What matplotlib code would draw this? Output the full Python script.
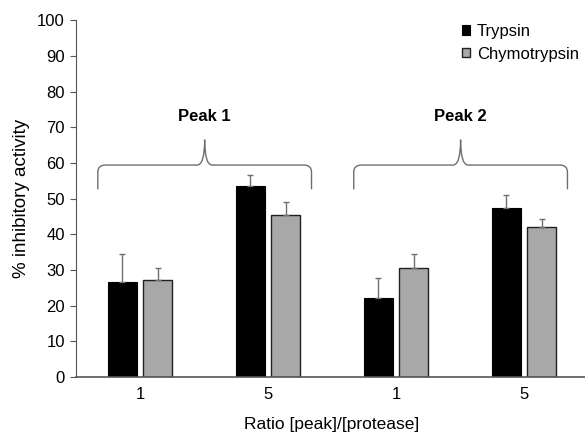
import matplotlib
matplotlib.use("Agg")
import matplotlib.pyplot as plt
from matplotlib.path import Path
from matplotlib.patches import PathPatch
import numpy as np

plt.rcParams['font.family'] = ['Liberation Sans', 'DejaVu Sans']

categories = ["1", "5", "1", "5"]
trypsin = [26.7, 53.5, 22.2, 47.4]
trypsin_err = [7.7, 3.2, 5.6, 3.5]
chymo = [27.3, 45.5, 30.6, 42.0]
chymo_err = [3.3, 3.6, 3.9, 2.2]
peaks = ["Peak 1", "Peak 2"]

fig = plt.figure(figsize=(5.85, 4.37), dpi=100)
ax = fig.add_axes([0.130, 0.137, 0.875, 0.817])

x = np.arange(len(categories))
w = 0.227
off = 0.14
ekw = dict(ecolor='#707070', capsize=2.2, elinewidth=1, capthick=1)
ax.bar(x - off, trypsin, w, color='black', edgecolor='black', linewidth=0.8, label='Trypsin',
       yerr=[np.zeros(4), trypsin_err], error_kw=ekw)
ax.bar(x + off, chymo, w, color='#a8a8a8', edgecolor='#202020', linewidth=1.0, label='Chymotrypsin',
       yerr=[np.zeros(4), chymo_err], error_kw=ekw)

def brace(ax, x0, x1, ybot, yflat, ytip, r=0.06, ry=2.0):
    xm = (x0 + x1) / 2
    verts = [
        (x0, ybot), (x0, yflat - ry), (x0, yflat), (x0 + r, yflat),
        (xm - r, yflat), (xm, yflat), (xm, ytip),
        (xm, yflat), (xm + r, yflat),
        (x1 - r, yflat), (x1, yflat), (x1, yflat - ry), (x1, ybot),
    ]
    codes = [Path.MOVETO, Path.LINETO, Path.CURVE3, Path.CURVE3,
             Path.LINETO, Path.CURVE3, Path.CURVE3,
             Path.CURVE3, Path.CURVE3,
             Path.LINETO, Path.CURVE3, Path.CURVE3, Path.LINETO]
    ax.add_patch(PathPatch(Path(verts, codes), fill=False, edgecolor='#6e6e6e', lw=1.0))

for i, name in enumerate(peaks):
    c = 0.5 + 2 * i
    brace(ax, c - 0.83, c + 0.84, 52.6, 59.4, 66.5)
    ax.text(c, 73, name, ha='center', va='center', fontsize=12, fontweight='bold')

ax.set_xlim(-0.5, 3.5)
ax.set_ylim(0, 100)
ax.set_yticks(np.arange(0, 101, 10))
ax.set_xticks(x)
ax.set_xticklabels(categories)
ax.tick_params(axis='x', length=0, labelsize=12, pad=7)
ax.tick_params(axis='y', direction='out', length=4, labelsize=12, color='#555555', pad=4)
for s in ['top', 'right']:
    ax.spines[s].set_visible(False)
for s in ['left', 'bottom']:
    ax.spines[s].set_color('#555555')
ax.spines['bottom'].set_linewidth(1.2)
ax.set_ylabel('% inhibitory activity', fontsize=13.5, labelpad=5)
ax.set_xlabel('Ratio [peak]/[protease]', fontsize=12.5, labelpad=11)
fig.legend(loc='upper left', bbox_to_anchor=(462 / 585, 1 - 24 / 437), frameon=False, fontsize=12,
           borderpad=0, borderaxespad=0,
           handlelength=0.5, handleheight=0.5, handletextpad=0.4, labelspacing=0.45)

fig.savefig('out.png', dpi=100)
